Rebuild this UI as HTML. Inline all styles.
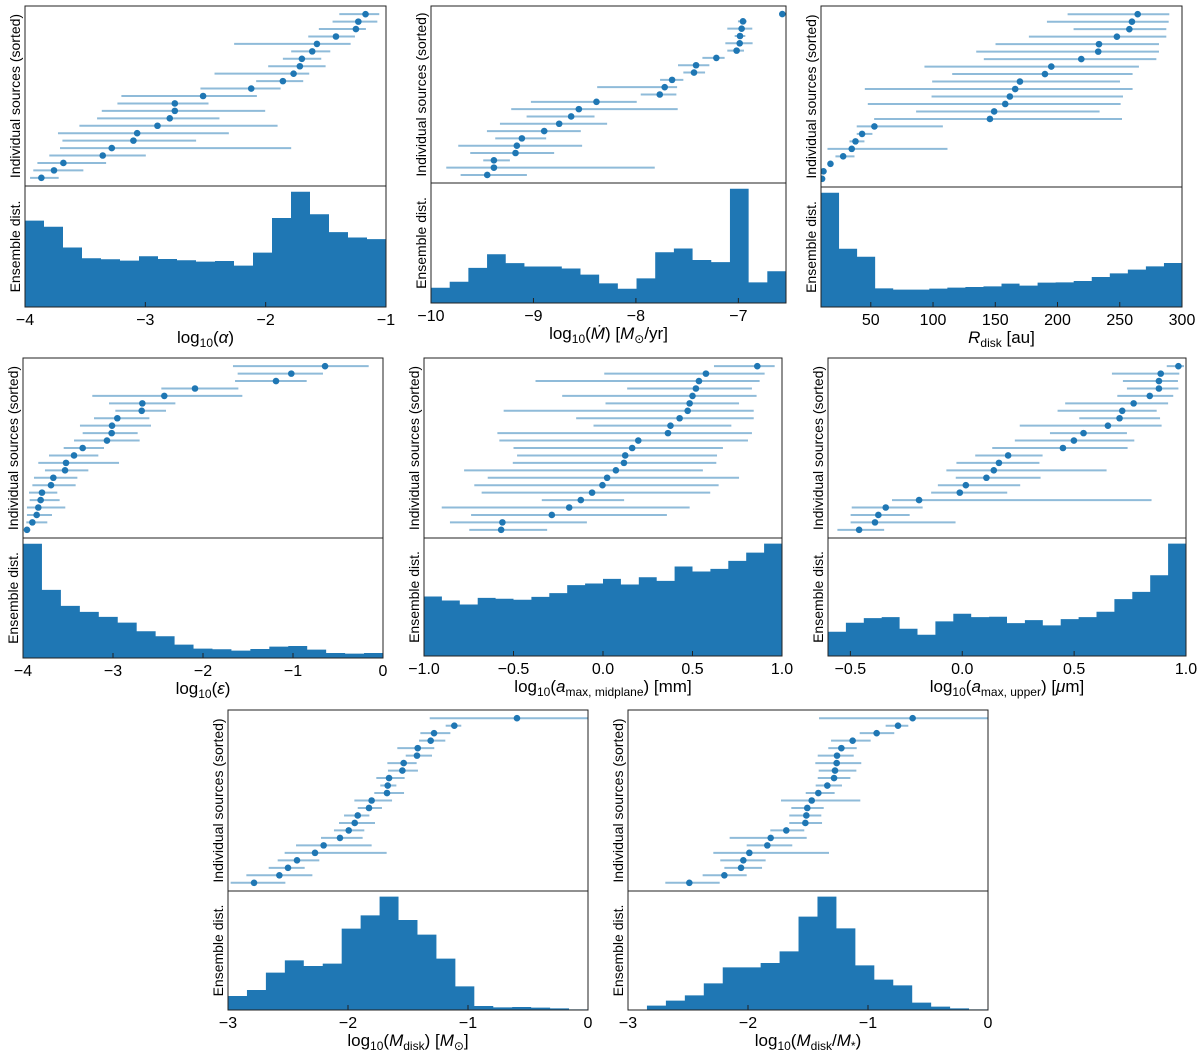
<!DOCTYPE html>
<html><head><meta charset="utf-8"><style>
html,body{margin:0;padding:0;background:#fff;}
svg{display:block;font-family:"Liberation Sans","DejaVu Sans",sans-serif;}
</style></head><body>
<svg id="fig" width="1200" height="1054" viewBox="0 0 1200 1054" xmlns="http://www.w3.org/2000/svg"></svg>
<script>
// ---- data arrays (sorted sources bottom->top) ----
const p1Val=[-3.864,-3.759,-3.681,-3.354,-3.279,-3.099,-3.068,-2.899,-2.797,-2.755,-2.755,-2.52,-2.12,-1.857,-1.768,-1.716,-1.699,-1.613,-1.574,-1.416,-1.25,-1.23,-1.17];
const p1Lo=[-3.958,-3.931,-3.897,-3.798,-3.709,-3.689,-3.726,-3.548,-3.401,-3.362,-3.232,-3.199,-2.542,-2.079,-2.425,-1.979,-1.857,-1.788,-2.262,-1.646,-1.558,-1.444,-1.388];
const p1Hi=[-3.72,-3.515,-3.326,-2.996,-1.788,-2.578,-2.306,-1.901,-2.384,-2.004,-2.475,-2.073,-1.876,-1.688,-1.638,-1.502,-1.538,-1.463,-1.294,-1.258,-1.167,-1.072,-1.056];
const p1Hist=[257,239,177,145,142,138,151,143,139,135,137,123,162,265,343,276,223,207,202];

const p2Val=[-9.451,-9.386,-9.386,-9.175,-9.162,-9.113,-8.895,-8.749,-8.632,-8.557,-8.385,-7.767,-7.719,-7.647,-7.433,-7.413,-7.215,-7.017,-6.987,-6.984,-6.968,-6.955,-6.571];
const p2Lo=[-9.711,-9.851,-9.49,-9.617,-9.734,-9.373,-9.454,-9.327,-9.067,-9.217,-9.025,-7.953,-8.378,-7.764,-7.537,-7.589,-7.351,-7.108,-7.127,-7.036,-7.108,-7.004,-6.6];
const p2Hi=[-9.064,-7.816,-9.23,-8.798,-8.525,-8.876,-8.538,-8.281,-8.404,-7.592,-7.992,-7.605,-7.598,-7.537,-7.325,-7.283,-7.134,-6.945,-6.861,-6.932,-6.864,-6.919,-6.545];
const p2Hist=[45,63,104,144,118,108,108,102,84,58,42,73,150,161,127,121,338,61,94];

const p3Val=[10.9,12.0,17.6,27.8,34.7,37.7,43.0,52.9,145.7,149.1,158.0,161.7,166.0,169.8,189.9,195.0,219.1,232.7,233.3,247.7,257.7,259.8,264.4];
const p3Lo=[10.9,12.0,17.6,21.6,15.2,32.9,38.7,38.7,52.7,86.4,47.6,98.8,45.2,99.3,115.4,93.1,140.8,134.7,150.2,177.0,212.9,191.5,208.1];
const p3Hi=[10.9,12.0,17.6,36.9,111.6,44.9,51.3,107.9,251.8,233.8,250.7,252.6,260.3,250.2,260.3,265.4,279.4,281.5,281.5,287.4,287.4,289.3,289.8];
const p3Hist=[343,175,151,56,52,52,55,58,60,62,70,64,73,74,78,90,101,112,122,132];

const p4Val=[-3.956,-3.896,-3.848,-3.83,-3.804,-3.789,-3.689,-3.663,-3.533,-3.522,-3.433,-3.337,-3.067,-3.015,-3.011,-2.952,-2.681,-2.674,-2.43,-2.089,-1.189,-1.019,-0.644];
const p4Lo=[-3.981,-3.963,-3.956,-3.956,-3.926,-3.933,-3.896,-3.878,-3.756,-3.83,-3.711,-3.548,-3.433,-3.337,-3.367,-3.211,-2.974,-3.044,-3.23,-2.463,-1.644,-1.615,-1.667];
const p4Hi=[-3.919,-3.73,-3.678,-3.53,-3.593,-3.619,-3.415,-3.396,-3.274,-2.933,-3.163,-3.1,-2.704,-2.726,-2.578,-2.596,-2.411,-2.307,-1.563,-1.607,-0.848,-0.667,-0.159];
const p4Hist=[342,204,156,138,123,106,80,65,40,28,26,22,27,34,36,25,15,13,15];

const p5Val=[-0.569,-0.562,-0.286,-0.189,-0.124,-0.061,-0.003,0.023,0.072,0.117,0.124,0.163,0.197,0.363,0.377,0.428,0.473,0.484,0.5,0.519,0.536,0.575,0.862];
const p5Lo=[-0.747,-0.855,-0.737,-0.901,-0.342,-0.678,-0.719,-0.644,-0.776,-0.504,-0.48,-0.5,-0.579,-0.59,-0.053,-0.15,-0.555,0.014,-0.228,0.135,-0.377,0.007,0.62];
const p5Hi=[-0.312,-0.09,0.357,0.484,0.118,0.599,0.646,0.76,0.558,0.633,0.637,0.67,0.81,0.832,0.717,0.842,0.842,0.76,0.858,0.832,0.875,0.903,0.959];
const p5Hist=[179,167,155,175,172,169,178,189,213,218,232,215,237,226,269,254,262,286,311,338];

const p6Val=[-0.461,-0.39,-0.375,-0.342,-0.193,-0.011,0.016,0.108,0.141,0.164,0.205,0.45,0.499,0.542,0.651,0.703,0.715,0.766,0.838,0.879,0.879,0.887,0.966];
const p6Lo=[-0.558,-0.499,-0.499,-0.494,-0.314,-0.139,-0.109,-0.029,-0.071,-0.026,0.058,0.134,0.235,0.392,0.257,0.523,0.426,0.46,0.693,0.736,0.718,0.669,0.914];
const p6Hi=[-0.349,-0.03,-0.235,-0.177,0.846,0.201,0.259,0.35,0.645,0.345,0.359,0.739,0.769,0.736,0.891,0.884,0.869,0.92,0.943,0.966,0.964,0.97,0.991];
const p6Hist=[73,100,114,117,82,64,104,127,117,118,99,108,92,111,117,133,171,193,243,338];

const p7Val=[-2.783,-2.572,-2.5,-2.425,-2.275,-2.203,-2.067,-1.994,-1.944,-1.919,-1.825,-1.803,-1.675,-1.669,-1.658,-1.547,-1.536,-1.425,-1.419,-1.311,-1.283,-1.114,-0.592];
const p7Lo=[-2.978,-2.847,-2.661,-2.586,-2.528,-2.433,-2.225,-2.117,-2.075,-2.033,-1.919,-1.947,-1.781,-1.731,-1.764,-1.667,-1.672,-1.519,-1.589,-1.408,-1.397,-1.186,-1.319];
const p7Hi=[-2.522,-2.297,-2.361,-2.239,-1.678,-1.803,-1.878,-1.864,-1.775,-1.822,-1.717,-1.633,-1.533,-1.597,-1.528,-1.417,-1.428,-1.3,-1.281,-1.189,-1.147,-1.056,0.05];
const p7Hist=[42,60,112,149,132,139,244,284,340,270,226,154,71,12,8,9,7,5,2];

const p8Val=[-2.489,-2.197,-2.058,-2.039,-1.989,-1.839,-1.811,-1.681,-1.522,-1.514,-1.506,-1.469,-1.414,-1.339,-1.283,-1.275,-1.261,-1.258,-1.222,-1.128,-0.928,-0.75,-0.628];
const p8Lo=[-2.689,-2.378,-2.197,-2.231,-2.289,-2.011,-2.153,-1.814,-1.656,-1.656,-1.639,-1.725,-1.519,-1.436,-1.419,-1.411,-1.439,-1.419,-1.331,-1.308,-1.069,-0.853,-1.408];
const p8Hi=[-2.236,-2.011,-1.883,-1.853,-1.325,-1.631,-1.511,-1.531,-1.383,-1.389,-1.369,-1.064,-1.278,-1.217,-1.147,-1.097,-1.056,-1.119,-1.094,-0.978,-0.781,-0.664,0.05];
const p8Hist=[0,13,28,44,80,128,128,141,176,280,340,245,134,91,74,22,10,5,2];

const p1Ticks=[-4,-3,-2,-1], p1TickLabels=["\u22124","\u22123","\u22122","\u22121"];
const p2Ticks=[-10,-9,-8,-7], p2TickLabels=["\u221210","\u22129","\u22128","\u22127"];
const p3Ticks=[50,100,150,200,250,300], p3TickLabels=["50","100","150","200","250","300"];
const p4Ticks=[-4,-3,-2,-1,0], p4TickLabels=["\u22124","\u22123","\u22122","\u22121","0"];
const p5Ticks=[-1,-0.5,0,0.5,1], p5TickLabels=["\u22121.0","\u22120.5","0.0","0.5","1.0"];
const p6Ticks=[-0.5,0,0.5,1], p6TickLabels=["\u22120.5","0.0","0.5","1.0"];
const p7Ticks=[-3,-2,-1,0], p7TickLabels=["\u22123","\u22122","\u22121","0"];
const p8Ticks=[-3,-2,-1,0], p8TickLabels=["\u22123","\u22122","\u22121","0"];

const sub='font-size="12" dy="4"', un='dy="-4"';
const panels=[
 {id:'alpha',L:25,R:386,T:6,M:186,B:307,xmin:-4,xmax:-1,val:p1Val,lo:p1Lo,hi:p1Hi,hist:p1Hist,ticks:p1Ticks,tl:p1TickLabels,
  label:`log<tspan ${sub}>10</tspan><tspan ${un}>(</tspan><tspan font-style="italic">α</tspan>)`},
 {id:'mdot',L:431,R:786,T:6,M:183,B:303,xmin:-10,xmax:-6.535,val:p2Val,lo:p2Lo,hi:p2Hi,hist:p2Hist,ticks:p2Ticks,tl:p2TickLabels,
  label:`log<tspan ${sub}>10</tspan><tspan ${un}>(</tspan><tspan font-style="italic">Ṁ</tspan>) [<tspan font-style="italic">M</tspan><tspan ${sub}>⊙</tspan><tspan ${un}>/yr]</tspan>`},
 {id:'rdisk',L:821,R:1182,T:6,M:187,B:307,xmin:10,xmax:300,val:p3Val,lo:p3Lo,hi:p3Hi,hist:p3Hist,ticks:p3Ticks,tl:p3TickLabels,
  label:`<tspan font-style="italic">R</tspan><tspan ${sub}>disk</tspan><tspan ${un}> [au]</tspan>`},
 {id:'epsilon',L:23,R:383,T:358,M:538,B:658,xmin:-4,xmax:0,val:p4Val,lo:p4Lo,hi:p4Hi,hist:p4Hist,ticks:p4Ticks,tl:p4TickLabels,
  label:`log<tspan ${sub}>10</tspan><tspan ${un}>(</tspan><tspan font-style="italic">ε</tspan>)`},
 {id:'amax-mid',L:424,R:782,T:358,M:538,B:656,xmin:-1,xmax:1,val:p5Val,lo:p5Lo,hi:p5Hi,hist:p5Hist,ticks:p5Ticks,tl:p5TickLabels,
  label:`log<tspan ${sub}>10</tspan><tspan ${un}>(</tspan><tspan font-style="italic">a</tspan><tspan ${sub}>max, midplane</tspan><tspan ${un}>) [mm]</tspan>`},
 {id:'amax-up',L:828,R:1186,T:358,M:538,B:656,xmin:-0.6,xmax:1,val:p6Val,lo:p6Lo,hi:p6Hi,hist:p6Hist,ticks:p6Ticks,tl:p6TickLabels,
  label:`log<tspan ${sub}>10</tspan><tspan ${un}>(</tspan><tspan font-style="italic">a</tspan><tspan ${sub}>max, upper</tspan><tspan ${un}>) [</tspan><tspan font-style="italic">μ</tspan>m]`},
 {id:'mdisk',L:228,R:588,T:710,M:891,B:1010,xmin:-3,xmax:0,val:p7Val,lo:p7Lo,hi:p7Hi,hist:p7Hist,ticks:p7Ticks,tl:p7TickLabels,
  label:`log<tspan ${sub}>10</tspan><tspan ${un}>(</tspan><tspan font-style="italic">M</tspan><tspan ${sub}>disk</tspan><tspan ${un}>) [</tspan><tspan font-style="italic">M</tspan><tspan ${sub}>⊙</tspan><tspan ${un}>]</tspan>`},
 {id:'mdisk-mstar',L:628,R:988,T:710,M:891,B:1010,xmin:-3,xmax:0,val:p8Val,lo:p8Lo,hi:p8Hi,hist:p8Hist,ticks:p8Ticks,tl:p8TickLabels,
  label:`log<tspan ${sub}>10</tspan><tspan ${un}>(</tspan><tspan font-style="italic">M</tspan><tspan ${sub}>disk</tspan><tspan ${un}>/</tspan><tspan font-style="italic">M</tspan><tspan ${sub}>*</tspan><tspan ${un}>)</tspan>`}
];

const NS='http://www.w3.org/2000/svg';
const svg=document.getElementById('fig');
function mk(tag,attrs,parent){const e=document.createElementNS(NS,tag);for(const k in attrs)e.setAttribute(k,attrs[k]);parent.appendChild(e);return e;}
const defs=mk('defs',{},svg);
const C='#1f77b4';

panels.forEach((p,pi)=>{
  const g=mk('g',{},svg);
  
  
  const xs=v=>p.L+(v-p.xmin)/(p.xmax-p.xmin)*(p.R-p.L);
  const n=p.val.length, ylo=-1.1, yhi=(n-1)+1.1;
  const ys=i=>p.M-(i-ylo)/(yhi-ylo)*(p.M-p.T);
  const cp=mk('clipPath',{id:'clip'+pi},defs);
  mk('rect',{x:p.L,y:p.T,width:p.R-p.L,height:p.B-p.T},cp);
  const gt=mk('g',{'clip-path':'url(#clip'+pi+')'},g);
  
  
  for(let i=0;i<n;i++){
    const y=ys(i);
    if(p.hi[i]>p.lo[i]){
      const l=mk('line',{x1:xs(p.lo[i]),x2:xs(p.hi[i]),y1:y,y2:y,stroke:C,'stroke-opacity':0.5,'stroke-width':2},gt);
      
      
    }
    const c=mk('circle',{cx:xs(p.val[i]),cy:y,r:3.3,fill:C},gt);
    
    
  }
  const hmax=Math.max(...p.hist)*1.05;
  const hs=v=>p.B-v/hmax*(p.B-p.M);
  const nb=p.hist.length, bw=(p.xmax-p.xmin)/nb;
  let d='M'+xs(p.xmin)+','+p.B;
  for(let b=0;b<nb;b++){const x0=xs(p.xmin+b*bw),x1=xs(p.xmin+(b+1)*bw),y=hs(p.hist[b]);d+=' L'+x0+','+y+' L'+x1+','+y;}
  d+=' L'+xs(p.xmax)+','+p.B+' Z';
  const hp=mk('path',{d:d,fill:C},g);
  
  
  const fr=mk('rect',{x:p.L,y:p.T,width:p.R-p.L,height:p.B-p.T,fill:'none',stroke:'#222','stroke-width':1},g);
  
  
  mk('line',{x1:p.L,x2:p.R,y1:p.M,y2:p.M,stroke:'#222','stroke-width':1},g);
  p.ticks.forEach((t,k)=>{
    const x=xs(t);
    mk('line',{x1:x,x2:x,y1:p.B,y2:p.B-5,stroke:'#222','stroke-width':1},g);
    const tx=mk('text',{x:x,y:p.B+18,'text-anchor':'middle','font-size':16,fill:'#000'},g);
    tx.textContent=p.tl[k];
    
    
  });
  const xl=mk('text',{x:(p.L+p.R)/2,y:p.B+36,'text-anchor':'middle','font-size':17,fill:'#000'},g);
  xl.innerHTML=p.label;
  
  
  const cy1=(p.T+p.M)/2, cy2=(p.M+p.B)/2;
  const yl1=mk('text',{x:p.L-5,y:cy1,transform:`rotate(-90 ${p.L-5} ${cy1})`,'text-anchor':'middle','font-size':14,fill:'#000'},g);
  yl1.textContent='Individual sources (sorted)';
  
  
  const yl2=mk('text',{x:p.L-5,y:cy2,transform:`rotate(-90 ${p.L-5} ${cy2})`,'text-anchor':'middle','font-size':14,fill:'#000'},g);
  yl2.textContent='Ensemble dist.';
  
  
});
</script>
</body></html>
